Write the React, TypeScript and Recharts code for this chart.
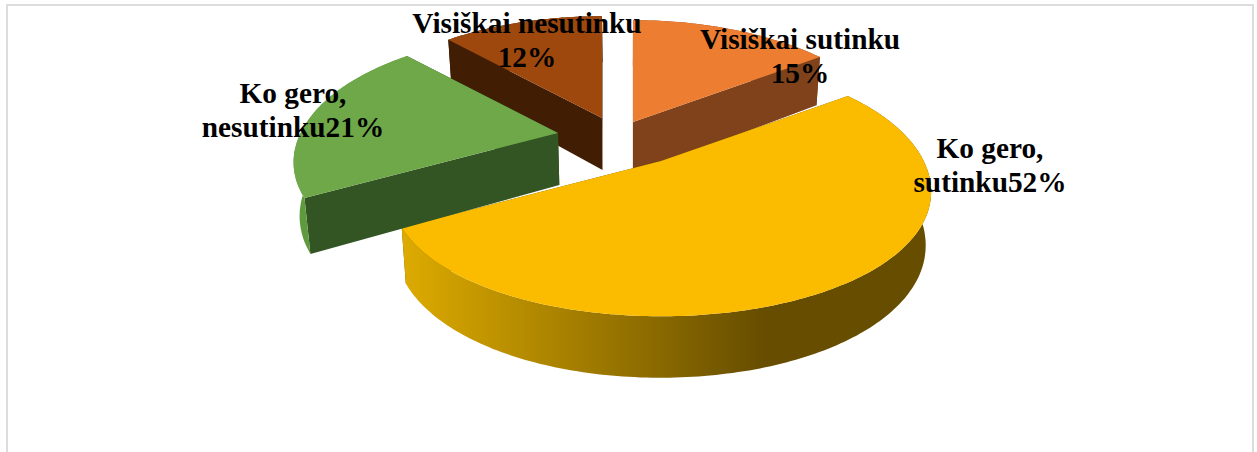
import { Pie, PieChart } from 'recharts';

// order follows the drawing order: the back slices first, so the front ones sit on top
const categories = ['Visiškai nesutinku', 'Visiškai sutinku', 'Ko gero, sutinku', 'Ko gero, nesutinku'];
const values = [12, 15, 52, 21];
const labelLines = [
  ['Visiškai nesutinku', '12%'],
  ['Visiškai sutinku', '15%'],
  ['Ko gero,', 'sutinku52%'],
  ['Ko gero,', 'nesutinku21%'],
];

const topColors = ['#9e480e', '#ed7d31', '#fbbc00', '#6ea848'];
const cutColors = ['#401d03', '#7f421b', '#665000', '#335423'];
const rimColors = ['#401d03', '#7f421b', 'url(#yellowRim)', '#5f9a3f'];
// how far each slice is pulled out of the pie
const explode = [[-14, -20], [17, -16], [45, 23], [-58, -5]];
const radiusScale = [1, 1, 1, 0.98];
const labelPos = [[527, 33], [800, 49], [990, 158], [293, 103]];

const W = 1257;
const H = 452;
const CX = 616;
const CY = 138;
const R = 262.7;
const TILT = 0.478;
const PERSPECTIVE = 0.233;
const DEPTH = 52;
const VANISH_X = 630;

const data = categories.map((name, i) => ({ name, value: values[i], index: i }));

// 3D-look projection of a rim point at `deg` (chart angle)
function top(cx: number, cy: number, radius: number, deg: number) {
  const a = (deg * Math.PI) / 180;
  const nx = radius * Math.cos(a);
  const ny = radius * Math.sin(a);
  const s = 1 / (1 + (PERSPECTIVE * ny) / R);
  const sy = ny < 0 ? Math.pow(s, 0.8) : s;
  return { x: cx + nx * s, y: cy - ny * TILT * sy, s };
}

function bottom(p: { x: number; y: number; s: number }) {
  return { x: VANISH_X + (p.x - VANISH_X) * 0.982, y: p.y + DEPTH * (1 + (p.s - 1) * 0.6) };
}

const toPath = (pts: { x: number; y: number }[]) =>
  pts.map((p, i) => `${i ? 'L' : 'M'}${p.x.toFixed(1)} ${p.y.toFixed(1)}`).join(' ') + ' Z';

function Slice3D(props: any) {
  const i = props.payload?.index ?? props.index ?? 0;
  const { cx, cy, outerRadius, startAngle, endAngle } = props;
  const [ox, oy] = explode[i];
  const x0 = cx + ox;
  const y0 = cy + oy;
  const radius = outerRadius * radiusScale[i];
  const steps = Math.ceil(Math.abs(endAngle - startAngle));
  const rim = [];
  for (let k = 0; k <= steps; k++) {
    rim.push(top(x0, y0, radius, startAngle + ((endAngle - startAngle) * k) / steps));
  }
  const apex = top(x0, y0, 0, 0);
  const rimBottom = rim.map(bottom);
  const cut = (p: any) => toPath([apex, p, bottom(p), bottom(apex)]);
  return (
    <g>
      <defs>
        <linearGradient id="yellowRim" gradientUnits="userSpaceOnUse" x1="405" y1="0" x2="765" y2="0">
          <stop offset="0" stopColor="#dcaa00" />
          <stop offset="1" stopColor="#664d00" />
        </linearGradient>
      </defs>
      <path d={cut(rim[0])} fill={cutColors[i]} />
      <path d={cut(rim[rim.length - 1])} fill={cutColors[i]} />
      <path d={toPath([...rim, ...[...rimBottom].reverse()])} fill={rimColors[i]} />
      <path d={toPath([apex, ...rim])} fill={topColors[i]} />
    </g>
  );
}

function SliceLabel(props: any) {
  const i = props.payload?.index ?? props.index ?? 0;
  const [x, y] = labelPos[i];
  return (
    <text x={x} y={y} textAnchor="middle" fontFamily="'Liberation Serif'" fontWeight="bold" fontSize={29.3} fill="#000">
      {labelLines[i].map((line, k) => (
        <tspan key={k} x={x} y={y + k * 33.5}>
          {line}
        </tspan>
      ))}
    </text>
  );
}

export default function App() {
  return (
    <div style={{ position: 'fixed', left: 0, top: 0, width: W, height: H, background: '#fff' }}>
      <div
        style={{
          position: 'absolute',
          left: 6,
          top: 4,
          width: W - 9,
          height: H,
          boxSizing: 'border-box',
          borderTop: '2px solid #dcdcdc',
          borderLeft: '2px solid #dcdcdc',
          borderRight: '2px solid #dcdcdc',
        }}
      />
      <div style={{ position: 'absolute', left: 0, top: 0 }}>
        <PieChart width={W} height={H} margin={{ top: 0, right: 0, bottom: 0, left: 0 }}>
          <Pie
            data={data}
            dataKey="value"
            nameKey="name"
            cx={CX}
            cy={CY}
            outerRadius={R}
            startAngle={133.2}
            endAngle={-226.8}
            stroke="none"
            isAnimationActive={false}
            shape={Slice3D}
            label={SliceLabel}
            labelLine={false}
          />
        </PieChart>
      </div>
    </div>
  );
}
